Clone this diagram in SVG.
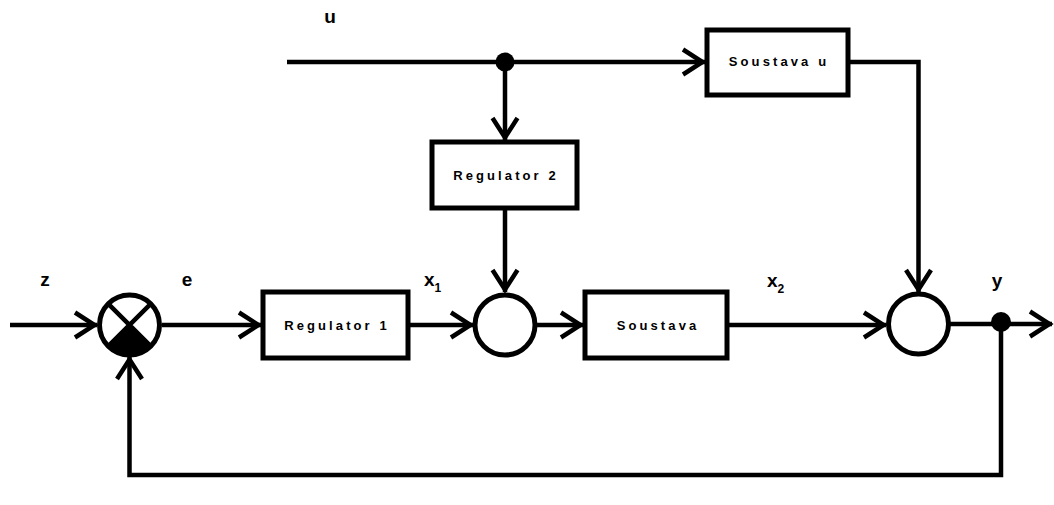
<svg xmlns="http://www.w3.org/2000/svg" width="1054" height="505" viewBox="0 0 1054 505">
  <style>
    .box { fill: #fff; stroke: #000; stroke-width: 5; }
    .sum { fill: #fff; stroke: #000; stroke-width: 5; }
    .wire { fill: none; stroke: #000; stroke-width: 4.5; }
    .blabel { font-family: "Liberation Sans", Arial, sans-serif; font-weight: bold; font-size: 13px; letter-spacing: 3.1px; fill: #000; text-anchor: middle; }
    .sig { font-family: "Liberation Sans", Arial, sans-serif; font-weight: bold; font-size: 19px; fill: #000; }
    .sub { font-size: 12px; }
  </style>
  <defs>
    <marker id="arrow" markerUnits="userSpaceOnUse" viewBox="-26 -15 30 30" refX="0" refY="0" markerWidth="30" markerHeight="30" orient="auto" overflow="visible">
      <path d="M-22,-12.5 L-2.5,0 L-22,12.5" fill="none" stroke="#000" stroke-width="4.5" stroke-linejoin="miter"/>
    </marker>
  </defs>
  <rect width="1054" height="505" fill="#fff"/>

  <!-- connectors -->
  <g id="connectors">
    <path class="wire" d="M10,325 H97" marker-end="url(#arrow)"/>
    <path class="wire" d="M162,325 H261" marker-end="url(#arrow)"/>
    <path class="wire" d="M410,325 H473" marker-end="url(#arrow)"/>
    <path class="wire" d="M537,325 H583" marker-end="url(#arrow)"/>
    <path class="wire" d="M729,325 H886" marker-end="url(#arrow)"/>
    <path class="wire" d="M950,324 H1052" marker-end="url(#arrow)"/>
    <path class="wire" d="M1001,323 V475 H129.5 V357" marker-end="url(#arrow)"/>
    <path class="wire" d="M287,62 H705" marker-end="url(#arrow)"/>
    <path class="wire" d="M505,62 V140" marker-end="url(#arrow)"/>
    <path class="wire" d="M505,210 V292" marker-end="url(#arrow)"/>
    <path class="wire" d="M850,62 H918.5 V292" marker-end="url(#arrow)"/>
    <circle cx="505" cy="62" r="9.5" fill="#000"/>
    <circle cx="1001" cy="322" r="10" fill="#000"/>
  </g>

  <!-- comparator -->
  <g id="sum1">
    <circle class="sum" cx="129.5" cy="325" r="30"/>
    <path d="M129.5,325 L150.7,346.2 A30,30 0 0 1 108.3,346.2 Z" fill="#000"/>
    <path class="wire" d="M108.3,303.8 L150.7,346.2 M150.7,303.8 L108.3,346.2"/>
  </g>

  <g id="regulator1">
    <rect class="box" x="263" y="292" width="145" height="66"/>
    <text class="blabel" x="337" y="330">Regulator 1</text>
  </g>

  <g id="sum2">
    <circle class="sum" cx="505" cy="325" r="30"/>
  </g>

  <g id="soustava">
    <rect class="box" x="585" y="292" width="142" height="66"/>
    <text class="blabel" x="658" y="330">Soustava</text>
  </g>

  <g id="sum3">
    <circle class="sum" cx="918.5" cy="324" r="30"/>
  </g>

  <g id="regulator2">
    <rect class="box" x="432" y="142" width="145" height="66"/>
    <text class="blabel" x="506" y="180">Regulator 2</text>
  </g>

  <g id="soustava-u">
    <rect class="box" x="707" y="30" width="141" height="65"/>
    <text class="blabel" x="779" y="66">Soustava u</text>
  </g>

  <!-- signal names -->
  <g id="signals">
    <text class="sig" x="330" y="23" text-anchor="middle">u</text>
    <text class="sig" x="45" y="286" text-anchor="middle">z</text>
    <text class="sig" x="187" y="286" text-anchor="middle">e</text>
    <text class="sig" x="424" y="286">x<tspan class="sub" dy="6">1</tspan></text>
    <text class="sig" x="767" y="287">x<tspan class="sub" dy="6">2</tspan></text>
    <text class="sig" x="997" y="287" text-anchor="middle">y</text>
  </g>
</svg>
